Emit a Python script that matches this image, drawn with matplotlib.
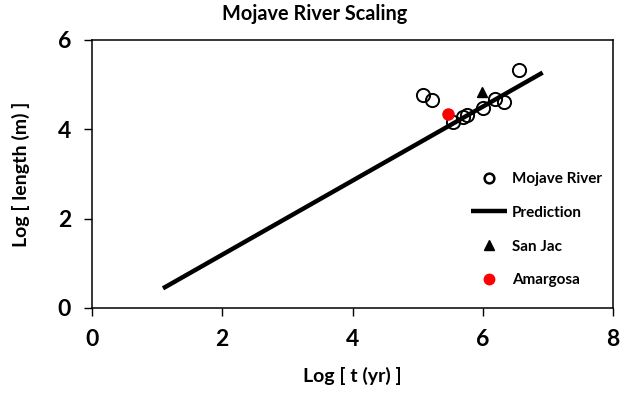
import matplotlib
matplotlib.use("Agg")
import matplotlib.pyplot as plt

# Data
mojave_x = [5.09, 5.22, 5.55, 5.70, 5.76, 6.01, 6.19, 6.33, 6.56]
mojave_y = [4.77, 4.66, 4.17, 4.28, 4.32, 4.47, 4.69, 4.62, 5.33]
pred_x = [1.09, 6.92]
pred_y = [0.44, 5.27]
sanjac_x = [5.99]
sanjac_y = [4.84]
amargosa_x = [5.46]
amargosa_y = [4.34]
x_ticks = [0, 2, 4, 6, 8]
y_ticks = [0, 2, 4, 6]

plt.rcParams['font.family'] = ['Lato', 'DejaVu Sans']

fig = plt.figure(figsize=(6.24, 3.94), dpi=100)
ax = fig.add_axes([92/624, 1-308/394, (613-92)/624, (308-40)/394])

ax.plot(pred_x, pred_y, color='black', lw=3.2, solid_capstyle='butt', label='Prediction', zorder=2)
ax.plot(mojave_x, mojave_y, linestyle='none', marker='o', markersize=9.5,
        markerfacecolor='none', markeredgecolor='black', markeredgewidth=1.4,
        label='Mojave River', zorder=3)
ax.plot(sanjac_x, sanjac_y, linestyle='none', marker='^', markersize=7.5,
        color='black', label='San Jac', zorder=4)
ax.plot(amargosa_x, amargosa_y, linestyle='none', marker='o', markersize=8,
        color='#ff0000', label='Amargosa', zorder=5)

ax.set_xlim(0, 8)
ax.set_ylim(0, 6)
ax.set_xticks(x_ticks)
ax.set_yticks(y_ticks)
ax.tick_params(direction='out', length=6, width=1, labelsize=16.5, pad=9)
for lab in ax.get_xticklabels() + ax.get_yticklabels():
    lab.set_fontweight('bold')
for sp in ax.spines.values():
    sp.set_linewidth(1.1)

fig.text(315/624, 1-14/394, 'Mojave River Scaling', fontsize=14.3, fontweight='bold',
         ha='center', va='center')
ax.set_xlabel('Log [ t (yr) ]', fontsize=14, fontweight='bold', labelpad=12)
ax.set_ylabel('Log [ length (m) ]', fontsize=14, fontweight='bold', labelpad=20)

handles, labels = ax.get_legend_handles_labels()
order = [1, 0, 2, 3]
leg = ax.legend([handles[i] for i in order], [labels[i] for i in order],
                loc='upper left', bbox_to_anchor=(0.727, 0.508), frameon=False,
                borderpad=0, borderaxespad=0, handlelength=2.4, handletextpad=0.3,
                labelspacing=1.3, prop={'size': 11, 'weight': 'bold'})
lh = leg.legend_handles
lh[0].set_markersize(7)
lh[0].set_markeredgewidth(1.8)
lh[3].set_markersize(7.5)

fig.savefig('out.png', dpi=100)
